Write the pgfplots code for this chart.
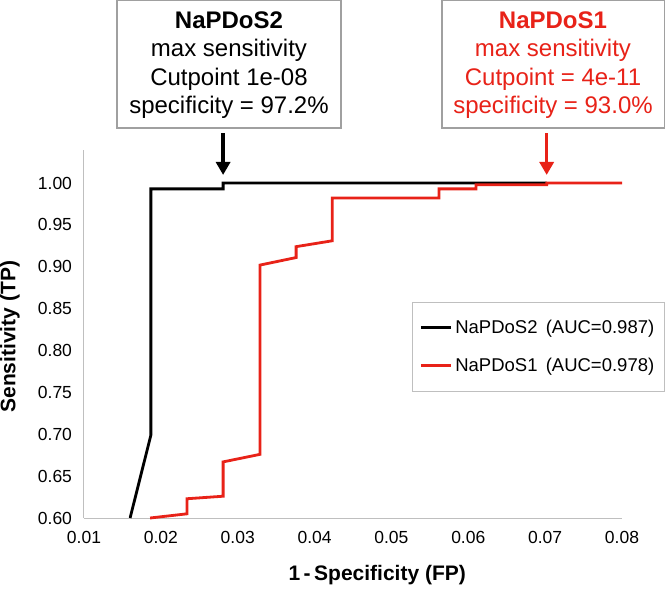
\documentclass[border=0pt]{standalone}
\usepackage{fontspec}
\setmainfont{Liberation Sans}
\usepackage{pgfplots}
\pgfplotsset{compat=1.18}
\usetikzlibrary{arrows.meta}

\definecolor{rocred}{RGB}{232,34,24}
\definecolor{axisgray}{RGB}{191,191,191}
\definecolor{boxgray}{RGB}{160,160,160}

\begin{document}
\begin{tikzpicture}
\useasboundingbox (-84pt,-74pt) rectangle (582pt,518pt);
\begin{axis}[
    scale only axis,
    width=538pt, height=368.5pt,
    xmin=0.01, xmax=0.08,
    ymin=0.60, ymax=1.04,
    xtick={0.01,0.02,0.03,0.04,0.05,0.06,0.07,0.08},
    ytick={0.60,0.65,0.70,0.75,0.80,0.85,0.90,0.95,1.00},
    scaled x ticks=false, scaled y ticks=false,
    axis x line*=bottom, axis y line*=left,
    axis line style={-, draw=axisgray, line width=1pt},
    major tick length=0pt,
    /pgf/number format/assume math mode=true,
    /pgf/number format/.cd, fixed, fixed zerofill, precision=2, /pgfplots/.cd,
    tick label style={font=\fontsize{17.5}{20}\selectfont},
    xticklabel style={yshift=-10pt},
    yticklabel style={xshift=-8.5pt},
    xlabel={\textbf{1\,-\,Specificity (FP)}},
    ylabel={\textbf{Sensitivity (TP)}},
    label style={font=\fontsize{21}{24}\selectfont},
    xlabel style={at={(axis description cs:0.545,-0.155)}, anchor=center},
    ylabel style={at={(axis description cs:-0.1375,0.492)}, anchor=center},
    legend cell align=left,
    legend style={at={(axis description cs:0.6097,0.587)}, anchor=north west,
        draw=axisgray, line width=1pt, font=\fontsize{18.5}{21}\selectfont,
        inner xsep=7pt, inner ysep=15pt, row sep=17pt,
        nodes={inner sep=3pt}},
    legend image code/.code={\draw[#1] (0pt,0pt) -- (30pt,0pt);},
    clip=false,
]
\addplot[black, line width=2.8pt, line join=miter] coordinates {
(0.0160,0.600) (0.0187,0.699) (0.0187,0.993) (0.0281,0.993)
(0.0281,1.000) (0.0702,1.000)
};
\addlegendentry{NaPDoS2 \,(AUC=0.987)}
\addplot[rocred, line width=2.8pt, line join=miter] coordinates {
(0.0186,0.600) (0.0234,0.605) (0.0234,0.623) (0.0281,0.626)
(0.0281,0.667) (0.0329,0.676) (0.0329,0.902) (0.0376,0.911)
(0.0376,0.924) (0.0423,0.931) (0.0423,0.982) (0.0562,0.982)
(0.0562,0.993) (0.0610,0.993) (0.0610,0.998) (0.0702,0.998)
(0.0702,1.000) (0.0800,1.000)
};
\addlegendentry{NaPDoS1 \,(AUC=0.978)}
% arrows pointing at the cutpoints
\draw[black, line width=3.5pt, -{Triangle[length=13pt,width=14pt]}]
    (axis cs:0.0281,1.0597) -- (axis cs:0.0281,1.0096);
\draw[rocred, line width=3.5pt, -{Triangle[length=13pt,width=14pt]}]
    (axis cs:0.0702,1.0597) -- (axis cs:0.0702,1.0096);
\end{axis}
% annotation boxes
\draw[boxgray, line width=1.2pt, fill=white] (33pt,390pt) rectangle (257pt,517.5pt);
\node[align=center, font=\fontsize{24}{28.3}\selectfont] at (145pt,453pt)
    {\textbf{NaPDoS2}\\max sensitivity\\Cutpoint 1e-08\\specificity = 97.2\%};
\draw[boxgray, line width=1.2pt, fill=white] (358pt,390pt) rectangle (580.5pt,517.5pt);
\node[align=center, text=rocred, font=\fontsize{24}{28.3}\selectfont] at (469pt,453pt)
    {\textbf{NaPDoS1}\\max sensitivity\\Cutpoint = 4e-11\\specificity = 93.0\%};
\end{tikzpicture}
\end{document}
